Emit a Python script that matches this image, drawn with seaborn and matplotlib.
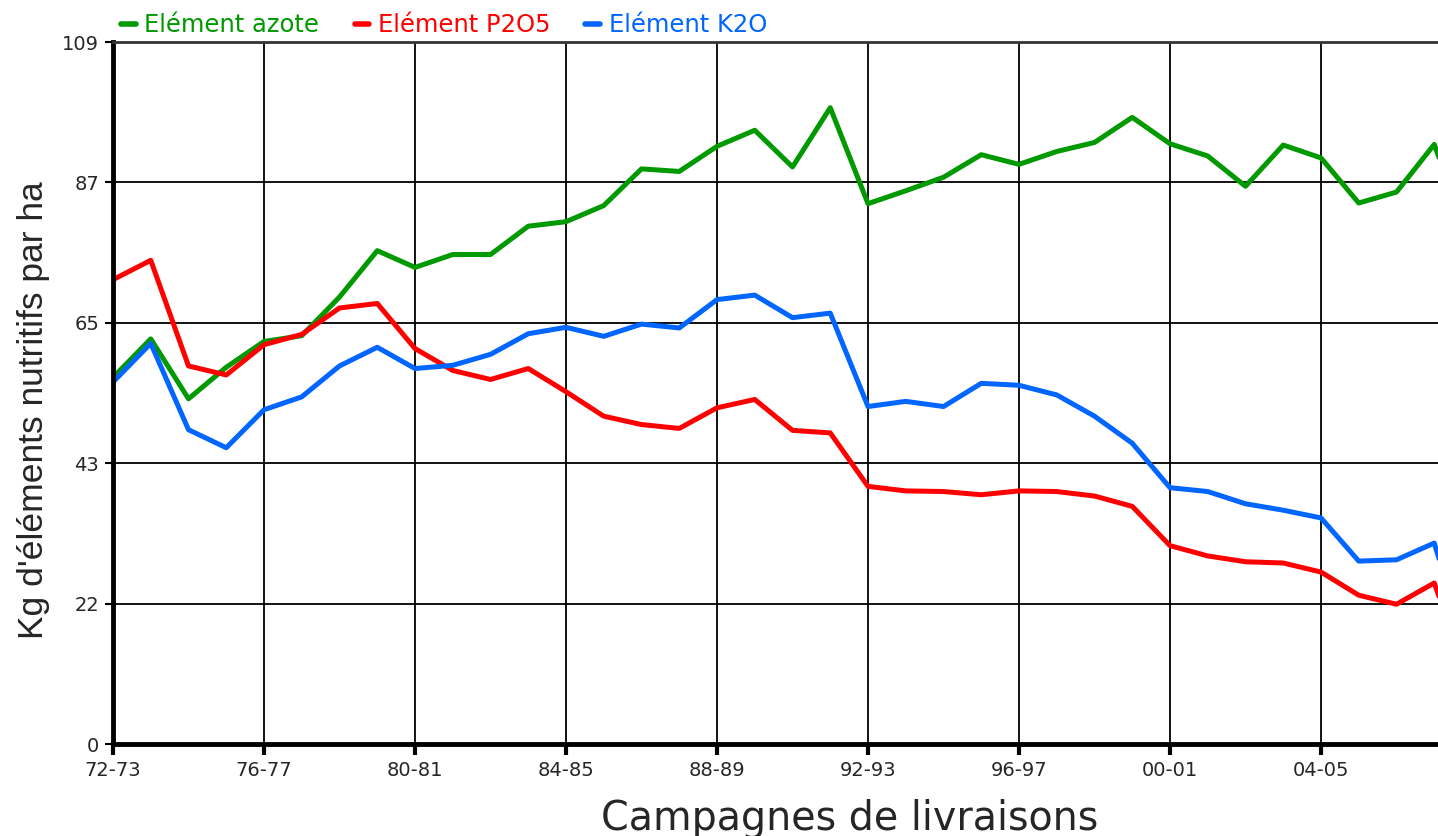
import pandas as pd
import matplotlib
matplotlib.use("Agg")
import matplotlib.pyplot as plt
import seaborn as sns

# ----------------------------------------------------------------------
# Data (kg of nutrient per ha)
# ----------------------------------------------------------------------
SEASONS = [f"{y % 100:02d}-{(y + 1) % 100:02d}" for y in range(1972, 2009)]

AZOTE = [56.9, 62.9, 53.6, 58.5, 62.5, 63.4, 69.4, 76.6, 74.0, 76.0,
         76.0, 80.4, 81.1, 83.6, 89.3, 88.9, 92.8, 95.3, 89.6, 98.8,
         83.9, 85.9, 88.0, 91.5, 90.0, 92.0, 93.4, 97.3, 93.2, 91.3,
         86.6, 93.0, 91.0, 84.0, 85.7, 93.1, 77.0]
P2O5 = [72.1, 75.1, 58.7, 57.3, 62.0, 63.6, 67.7, 68.4, 61.4, 58.0,
        56.6, 58.3, 54.7, 50.9, 49.6, 49.0, 52.2, 53.5, 48.7, 48.3,
        40.0, 39.3, 39.2, 38.7, 39.3, 39.2, 38.5, 36.9, 30.8, 29.2,
        28.3, 28.1, 26.7, 23.1, 21.7, 25.0, 8.5]
K2O = [56.2, 62.2, 48.8, 46.0, 51.9, 53.9, 58.7, 61.6, 58.3, 58.8,
       60.5, 63.7, 64.7, 63.3, 65.2, 64.6, 69.0, 69.7, 66.2, 66.9,
       52.4, 53.2, 52.4, 56.0, 55.7, 54.2, 50.9, 46.7, 39.8, 39.2,
       37.3, 36.3, 35.1, 28.4, 28.6, 31.2, 12.0]

SERIES = ["Elément azote", "Elément P2O5", "Elément K2O"]
COLORS = ["#009900", "#FF0000", "#0066FF"]

YTICKS = [0, 21.8, 43.6, 65.4, 87.2, 109]
YTICK_LABELS = ["0", "22", "43", "65", "87", "109"]

df = pd.DataFrame({
    "idx": list(range(len(SEASONS))) * 3,
    "value": AZOTE + P2O5 + K2O,
    "serie": [s for s in SERIES for _ in SEASONS],
})

# ----------------------------------------------------------------------
# Plot
# ----------------------------------------------------------------------
sns.set_style("white")
plt.rcParams["font.family"] = ["DejaVu Sans"]

W, H = 1438, 836
fig = plt.figure(figsize=(W / 100, H / 100), dpi=100)
ax = fig.add_axes([113 / W, 92 / H, (W - 113) / W, 702 / H])

sns.lineplot(data=df, x="idx", y="value", hue="serie", hue_order=SERIES,
             palette=COLORS, linewidth=3.6, ax=ax, legend=True)

# only the ticks that fall inside the (cropped) view
xt = [i for i in range(0, len(SEASONS), 4) if i <= 35]
ax.set_xticks(xt)
ax.set_xticklabels([SEASONS[i] for i in xt], fontsize=14)
ax.set_yticks(YTICKS)
ax.set_yticklabels(YTICK_LABELS, fontsize=14)
ax.set_xlim(0, (W - 113) / 37.75)
ax.set_ylim(0, 109)
ax.grid(True, color="black", linewidth=1.3)
ax.set_axisbelow(True)

ax.tick_params(axis="x", direction="out", length=8, width=3, color="black",
               pad=4, bottom=True)
ax.tick_params(axis="y", direction="out", length=6, width=1.5, color="black",
               pad=4, left=True)

ax.spines["left"].set_linewidth(3.5)
ax.spines["bottom"].set_linewidth(3.5)
ax.spines["top"].set_linewidth(2)
ax.spines["top"].set_color("#333333")
ax.spines["right"].set_visible(False)
for side in ["left", "bottom"]:
    ax.spines[side].set_color("black")

ax.set_xlabel("")
ax.set_ylabel("Kg d'éléments nutritifs par ha", fontsize=25.5,
              family="Liberation Sans")
ax.yaxis.set_label_coords(-0.0475, 0.476)

fig.text(0.591, 6 / H, "Campagnes de livraisons", fontsize=28.5,
         ha="center", va="baseline")

leg = ax.legend(loc="lower left", bbox_to_anchor=(-0.001, 0.993), ncol=3,
                frameon=False, fontsize=17.5, handlelength=0.6,
                handletextpad=0.35, columnspacing=1.45, borderaxespad=0,
                labelcolor="linecolor")
for h in leg.get_lines():
    h.set_linewidth(4)

fig.savefig("out.png", dpi=100, facecolor="white")
